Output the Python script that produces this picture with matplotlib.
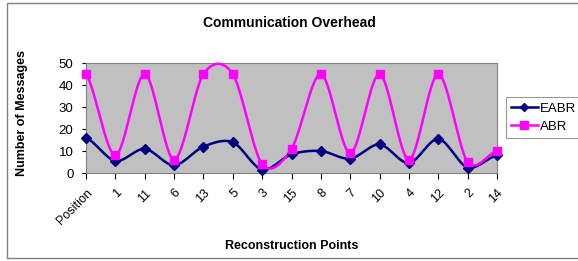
import numpy as np
import matplotlib
matplotlib.use("Agg")
import matplotlib.pyplot as plt
from matplotlib.patches import Rectangle

plt.rcParams["font.family"] = ["Liberation Sans", "DejaVu Sans"]

categories = ["Position", "1", "11", "6", "13", "5", "3", "15", "8", "7",
              "10", "4", "12", "2", "14"]
eabr = [16, 5.5, 11, 3.5, 12, 14, 1.5, 8.5, 10, 6.5, 13, 4.5, 15.5, 2.5, 8]
abr = [45, 8, 45, 6, 45, 45, 4, 11, 45, 9, 45, 6, 45, 5, 10]


def smooth(x, y, n=30):
    """Catmull-Rom style curve through the points (like Excel smoothed lines)."""
    x = np.asarray(x, float)
    y = np.asarray(y, float)
    px = np.concatenate([[2 * x[0] - x[1]], x, [2 * x[-1] - x[-2]]])
    py = np.concatenate([[y[0]], y, [y[-1]]])
    xs, ys = [], []
    t = np.linspace(0, 1, n)
    k = 6.5
    for i in range(1, len(px) - 2):
        p0, p1, p2, p3 = py[i - 1], py[i], py[i + 1], py[i + 2]
        q0, q1, q2, q3 = px[i - 1], px[i], px[i + 1], px[i + 2]
        # bezier control points
        c1y = p1 + (p2 - p0) / k
        c2y = p2 - (p3 - p1) / k
        c1x = q1 + (q2 - q0) / k
        c2x = q2 - (q3 - q1) / k
        b = lambda a0, a1, a2, a3: ((1 - t) ** 3 * a0 + 3 * (1 - t) ** 2 * t * a1
                                    + 3 * (1 - t) * t ** 2 * a2 + t ** 3 * a3)
        xs.append(b(q1, c1x, c2x, q2))
        ys.append(b(p1, c1y, c2y, p2))
    return np.concatenate(xs), np.concatenate(ys)


fig = plt.figure(figsize=(5.78, 2.61), dpi=100)
# outer chart border (right side runs off the picture, as in the reference)
fig.patches.append(Rectangle((7 / 578, 3 / 261), 1.0, 255 / 261, transform=fig.transFigure,
                             fill=False, edgecolor="#808080", linewidth=1))
ax = fig.add_axes([86 / 578, 1 - 173 / 261, 411 / 578, 110 / 261])
ax.set_facecolor("#C0C0C0")

x = np.arange(len(categories))
sx, sy = smooth(x, eabr)
ax.plot(sx, sy, color="#000080", linewidth=1.8, zorder=3, clip_on=False)
ax.plot(x, eabr, linestyle="none", marker="D", markersize=5, color="#000080",
        zorder=4, clip_on=False)
sx, sy = smooth(x, abr)
ax.plot(sx, sy, color="#FF00FF", linewidth=1.8, zorder=3, clip_on=False)
ax.plot(x, abr, linestyle="none", marker="s", markersize=6, color="#FF00FF",
        zorder=4, clip_on=False)

# legend proxies
ax.plot([], [], color="#000080", marker="D", markersize=4.5, linewidth=1.8, label="EABR")
ax.plot([], [], color="#FF00FF", marker="s", markersize=5.5, linewidth=1.8, label="ABR")

ax.set_xlim(0, len(categories) - 1)
ax.set_ylim(0, 50)
ax.set_yticks(range(0, 51, 10))
ax.set_xticks(x)
ax.set_xticklabels(categories, rotation=45, ha="right", rotation_mode="anchor", fontsize=9)
ax.tick_params(axis="y", labelsize=9.5, length=3, pad=6)
ax.tick_params(axis="x", length=4, pad=6)
for side in ["top", "right", "left", "bottom"]:
    ax.spines[side].set_color("#808080")

ax.set_ylabel("Number of Messages", fontsize=9, fontweight="bold")
ax.yaxis.set_label_coords(-0.141, 0.55)
ax.set_xlabel("Reconstruction Points", fontsize=9, fontweight="bold")
ax.xaxis.set_label_coords(0.5, -0.61)
fig.text(0.5, 0.912, "Communication Overhead", ha="center", va="center",
         fontsize=10, fontweight="bold")

leg = fig.legend(loc="upper left", bbox_to_anchor=(506 / 578, 1 - 97 / 261),
                 fontsize=9.5, frameon=True, fancybox=False, edgecolor="#808080",
                 handlelength=2.0, borderpad=0.4, labelspacing=0.45,
                 handletextpad=0.15, borderaxespad=0)
leg.get_frame().set_linewidth(0.8)

fig.savefig("out.png", dpi=100)
